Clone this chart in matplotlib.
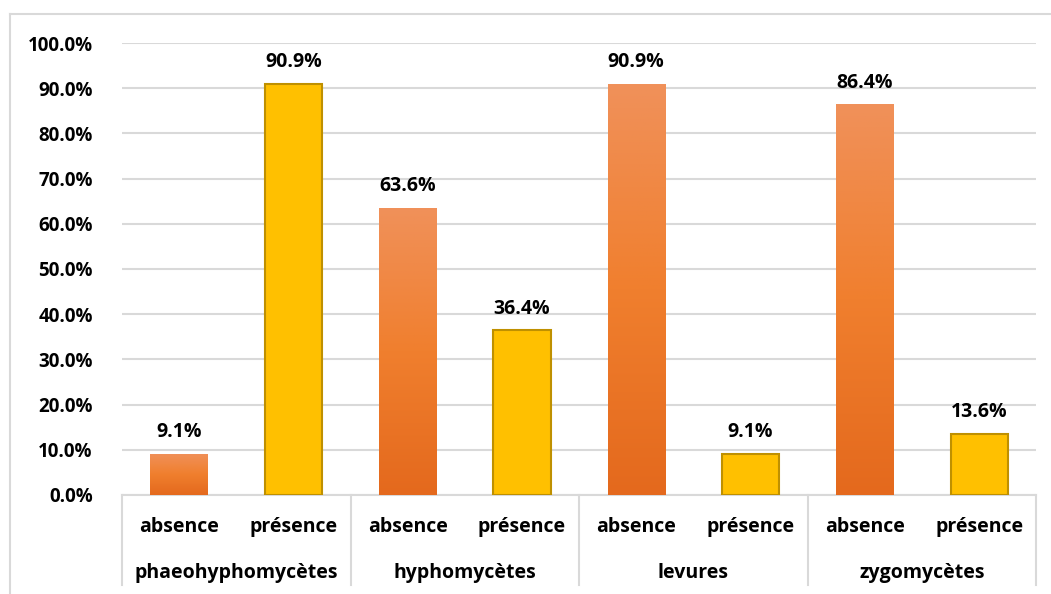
import numpy as np
import matplotlib.pyplot as plt
from matplotlib.colors import LinearSegmentedColormap
from matplotlib.lines import Line2D

plt.rcParams['font.family'] = ['Open Sans', 'DejaVu Sans']
plt.rcParams['font.weight'] = 'bold'
FS = 14

# donnees
groups = ['phaeohyphomycètes', 'hyphomycètes', 'levures', 'zygomycètes']
subcats = ['absence', 'présence']
absence = [9.1, 63.6, 90.9, 86.4]
presence = [90.9, 36.4, 9.1, 13.6]

fig = plt.figure(figsize=(10.51, 5.94), dpi=100)
ax = fig.add_axes([0.116, 0.1667, 0.870, 0.7609])

n = len(groups)
x_abs = np.arange(n) * 2
x_pre = x_abs + 1
w = 0.5

# degrade orange pour absence
cmap = LinearSegmentedColormap.from_list('org', ['#E4691D', '#F07F2E', '#F0915A'])
grad = np.linspace(0, 1, 256).reshape(-1, 1)

bars_a = ax.bar(x_abs, absence, w, color='none', edgecolor='none', zorder=3)
for b in bars_a:
    x0, y0 = b.get_x(), b.get_y()
    im = ax.imshow(grad, cmap=cmap, origin='lower', aspect='auto',
                   extent=[x0, x0 + b.get_width(), y0, y0 + b.get_height()], zorder=3)
    im.set_clip_path(b)

bars_p = ax.bar(x_pre, presence, w, color='#FFC000', edgecolor='#BF9000', linewidth=1.5, zorder=3)

for xs, vals in ((x_abs, absence), (x_pre, presence)):
    for xi, v in zip(xs, vals):
        ax.text(xi, v + 4.8, f'{v:.1f}%', ha='center', va='center', fontsize=FS, fontweight='bold')

ax.set_xlim(-0.5, 2 * n - 0.5)
ax.set_ylim(0, 100)
ax.set_yticks(np.arange(0, 101, 10))
ax.set_yticklabels([f'{t:.1f}%' for t in np.arange(0, 101, 10)], fontsize=13.5, fontweight='bold')
ax.tick_params(axis='y', length=0, pad=21)
ax.grid(axis='y', color='#D9D9D9', linewidth=1.5, zorder=0)
for s in ['top', 'right', 'left']:
    ax.spines[s].set_visible(False)
ax.spines['bottom'].set_color('#D9D9D9')
ax.spines['bottom'].set_linewidth(1.5)

# axe x a deux niveaux
ax.set_xticks(np.concatenate([x_abs, x_pre]))
ax.set_xticklabels([])
ax.tick_params(axis='x', length=0)
for xs, lab in ((x_abs, subcats[0]), (x_pre, subcats[1])):
    for xi in xs:
        ax.text(xi, -7.0, lab, ha='center', va='center', fontsize=FS, fontweight='bold',
                clip_on=False)
for i, g in enumerate(groups):
    ax.text(2 * i + 0.5, -17.2, g, ha='center', va='center', fontsize=FS, fontweight='bold',
            clip_on=False)
for k in range(n + 1):
    xv = 2 * k - 0.5
    ax.add_line(Line2D([xv, xv], [0, -20], color='#D9D9D9', linewidth=1.5, clip_on=False))

# cadre
fig.add_artist(Line2D([0.0095, 0.0095], [0, 0.976], color='#D9D9D9', linewidth=1.5))
fig.add_artist(Line2D([0.0095, 1.0], [0.976, 0.976], color='#D9D9D9', linewidth=1.5))

fig.savefig('out.png', dpi=100)
